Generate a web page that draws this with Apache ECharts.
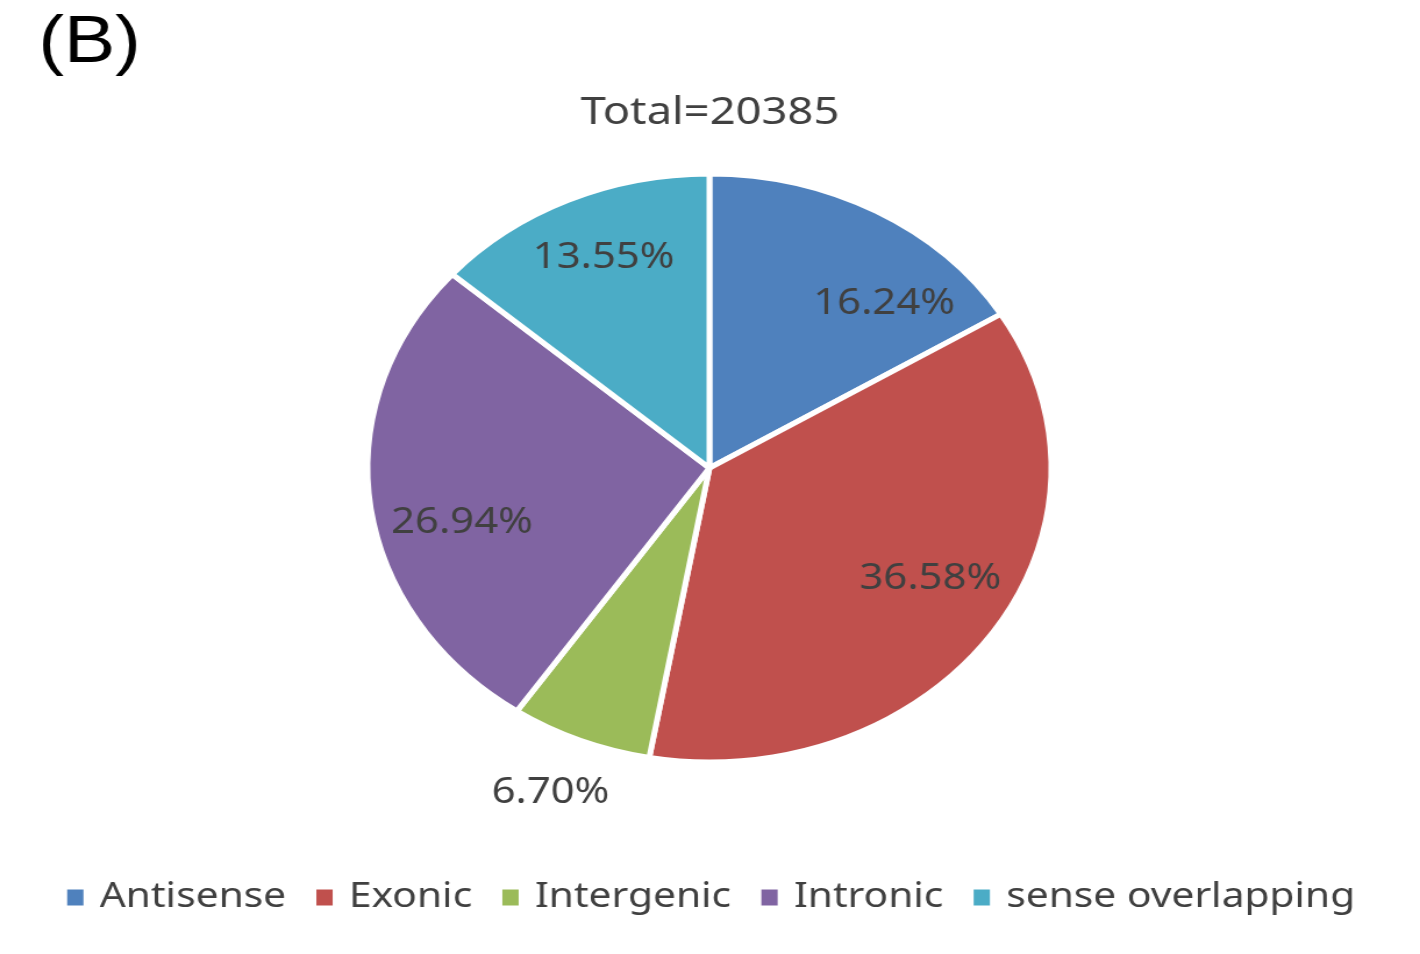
<!DOCTYPE html>
<html>
<head>
<meta charset="utf-8">
<script src="https://cdn.jsdelivr.net/npm/echarts@6/dist/echarts.min.js"></script>
<style>
html,body{margin:0;padding:0;background:#fff;overflow:hidden;}
#wrap{width:1420px;height:954px;overflow:hidden;}
#chart{height:954px;transform-origin:0 0;}
</style>
</head>
<body>
<div id="wrap"><div id="chart"></div></div>
<script>
// Data
var categories = ['Antisense', 'Exonic', 'Intergenic', 'Intronic', 'sense overlapping'];
var percents = [16.24, 36.58, 6.70, 26.94, 13.55];
var colors = ['#4F81BD', '#C0504D', '#9BBB59', '#8064A2', '#4BACC6'];
var totalLabel = 'Total=20385';
var panelLabel = '(B)';

// The reference figure is horizontally stretched; reproduce by scaling the canvas.
var SX = 1.163;
var W = Math.round(1420 / SX);
var el = document.getElementById('chart');
el.style.width = W + 'px';
el.style.transform = 'scaleX(' + SX + ')';

// label offsets from the default inside position (style/layout)
var labelShift = [[77, -33], [66, 26], [-80, 186], [-64, 36], [-29, -74]];

var chart = echarts.init(el, null, {renderer: 'canvas'});
var txt = '#404040';
var font = "'Noto Sans', 'Open Sans', sans-serif";
chart.setOption({
  animation: false,
  backgroundColor: '#fff',
  title: [{
    text: panelLabel,
    left: 28, top: 6,
    textStyle: {fontFamily: "'Liberation Sans', Arial, sans-serif", fontSize: 66, fontWeight: 'normal', color: '#000'}
  }, {
    text: totalLabel,
    left: 'center', top: 88,
    textStyle: {fontFamily: font, fontSize: 39, fontWeight: 'normal', color: txt}
  }],
  legend: {
    bottom: 34,
    left: 'center',
    icon: 'rect',
    itemWidth: 16,
    itemHeight: 18,
    itemGap: 24,
    textStyle: {fontFamily: font, fontSize: 35, color: txt, padding: [0, 0, 0, 8]},
    data: categories
  },
  series: [{
    type: 'pie',
    center: [610, 468],
    radius: 294,
    startAngle: 90,
    clockwise: true,
    avoidLabelOverlap: false,
    itemStyle: {borderColor: '#fff', borderWidth: 5},
    label: {
      show: true,
      position: 'inside',
      fontFamily: font,
      fontSize: 36,
      color: txt,
      formatter: function (p) { return p.value.toFixed(2) + '%'; }
    },
    labelLine: {show: false},
    labelLayout: function (p) {
      var s = labelShift[p.dataIndex];
      return {dx: s[0], dy: s[1]};
    },
    emphasis: {disabled: true},
    data: categories.map(function (c, i) {
      return {name: c, value: percents[i], itemStyle: {color: colors[i]}};
    })
  }]
});
</script>
</body>
</html>
